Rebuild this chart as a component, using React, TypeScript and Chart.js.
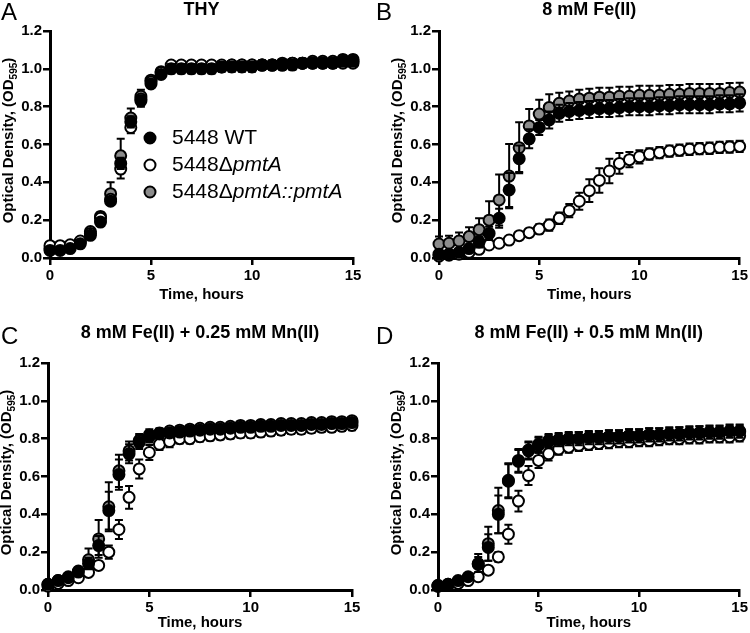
import React, { useEffect, useRef } from "react";
import { Chart, registerables } from "chart.js";

Chart.register(...registerables);

const FONT = "'Liberation Sans', Arial, Helvetica, sans-serif";

// ---------- data ----------
const TIME_H = [0, 0.5, 1, 1.5, 2, 2.5, 3, 3.5, 4, 4.5, 5, 5.5, 6, 6.5, 7, 7.5, 8, 8.5, 9, 9.5, 10, 10.5, 11, 11.5, 12, 12.5, 13, 13.5, 14, 14.5, 15];

const X_TICKS = [0, 5, 10, 15];
const Y_TICKS = [0, 0.2, 0.4, 0.6, 0.8, 1.0, 1.2];

const X_TITLE = "Time, hours";
const Y_TITLE_MAIN = "Optical Density, (OD";
const Y_TITLE_SUB = "595";
const Y_TITLE_END = ")";

const SERIES_FILL = ["#000000", "#ffffff", "#8c8c8c"];
const LEGEND_WT = [{ t: "5448 WT", i: false }];
const LEGEND_DEL = [{ t: "5448Δ", i: false }, { t: "pmtA", i: true }];
const LEGEND_COMP = [{ t: "5448Δ", i: false }, { t: "pmtA::pmtA", i: true }];

const PANEL_LETTERS = ["A", "B", "C", "D"];
const PANEL_TITLES = ["THY", "8 mM Fe(II)", "8 mM Fe(II) + 0.25 mM Mn(II)", "8 mM Fe(II) + 0.5 mM Mn(II)"];

// Panel A: THY
const THY_WT = [0.04, 0.04, 0.05, 0.075, 0.12, 0.19, 0.30, 0.50, 0.72, 0.83, 0.92, 0.97, 1.00, 1.00, 1.00, 1.00, 1.00, 1.01, 1.01, 1.01, 1.01, 1.02, 1.02, 1.02, 1.02, 1.03, 1.03, 1.03, 1.03, 1.04, 1.04];
const THY_WT_SD = [0.01, 0.01, 0.01, 0.01, 0.015, 0.02, 0.02, 0.03, 0.03, 0.03, 0.02, 0.02, 0.025, 0.025, 0.025, 0.025, 0.025, 0.025, 0.025, 0.025, 0.025, 0.025, 0.025, 0.025, 0.025, 0.025, 0.025, 0.025, 0.025, 0.025, 0.025];
const THY_DEL = [0.065, 0.065, 0.07, 0.09, 0.13, 0.21, 0.31, 0.47, 0.69, 0.84, 0.93, 0.98, 1.02, 1.02, 1.02, 1.02, 1.02, 1.02, 1.02, 1.02, 1.02, 1.02, 1.02, 1.02, 1.03, 1.03, 1.03, 1.03, 1.03, 1.03, 1.03];
const THY_DEL_SD = [0.01, 0.01, 0.01, 0.01, 0.01, 0.015, 0.02, 0.05, 0.03, 0.02, 0.02, 0.02, 0.02, 0.02, 0.02, 0.02, 0.02, 0.02, 0.02, 0.02, 0.02, 0.02, 0.02, 0.02, 0.02, 0.02, 0.02, 0.02, 0.02, 0.02, 0.02];
const THY_COMP = [0.05, 0.05, 0.06, 0.085, 0.14, 0.22, 0.34, 0.54, 0.74, 0.855, 0.94, 0.985, 1.01, 1.01, 1.01, 1.01, 1.01, 1.01, 1.02, 1.02, 1.02, 1.02, 1.02, 1.03, 1.03, 1.03, 1.04, 1.04, 1.04, 1.05, 1.05];
const THY_COMP_SD = [0.01, 0.01, 0.01, 0.01, 0.015, 0.02, 0.06, 0.09, 0.05, 0.035, 0.02, 0.02, 0.02, 0.02, 0.02, 0.02, 0.02, 0.02, 0.02, 0.02, 0.02, 0.02, 0.02, 0.02, 0.02, 0.02, 0.02, 0.02, 0.02, 0.02, 0.02];

// Panel B: 8 mM Fe(II)
const FE_WT = [0.02, 0.02, 0.03, 0.05, 0.085, 0.13, 0.21, 0.36, 0.525, 0.63, 0.69, 0.73, 0.765, 0.775, 0.78, 0.785, 0.79, 0.79, 0.795, 0.80, 0.80, 0.80, 0.805, 0.805, 0.81, 0.81, 0.81, 0.81, 0.815, 0.815, 0.82];
const FE_WT_SD = [0.01, 0.01, 0.015, 0.02, 0.03, 0.035, 0.05, 0.09, 0.07, 0.05, 0.04, 0.045, 0.045, 0.045, 0.045, 0.045, 0.045, 0.045, 0.045, 0.045, 0.045, 0.045, 0.045, 0.045, 0.045, 0.045, 0.045, 0.045, 0.045, 0.045, 0.045];
const FE_DEL = [0.01, 0.015, 0.02, 0.03, 0.046, 0.069, 0.078, 0.095, 0.118, 0.134, 0.153, 0.174, 0.21, 0.25, 0.30, 0.356, 0.41, 0.46, 0.50, 0.52, 0.535, 0.55, 0.557, 0.565, 0.57, 0.575, 0.578, 0.58, 0.585, 0.587, 0.59];
const FE_DEL_SD = [0.01, 0.01, 0.01, 0.01, 0.015, 0.015, 0.015, 0.02, 0.02, 0.02, 0.025, 0.03, 0.03, 0.035, 0.045, 0.06, 0.065, 0.065, 0.055, 0.04, 0.035, 0.03, 0.03, 0.03, 0.03, 0.03, 0.03, 0.03, 0.03, 0.03, 0.03];
const FE_COMP = [0.074, 0.078, 0.09, 0.113, 0.15, 0.20, 0.307, 0.433, 0.583, 0.698, 0.761, 0.796, 0.818, 0.83, 0.84, 0.845, 0.85, 0.85, 0.855, 0.855, 0.86, 0.86, 0.86, 0.865, 0.865, 0.87, 0.87, 0.87, 0.87, 0.875, 0.877];
const FE_COMP_SD = [0.04, 0.04, 0.045, 0.05, 0.06, 0.10, 0.135, 0.17, 0.135, 0.09, 0.075, 0.07, 0.055, 0.05, 0.05, 0.05, 0.05, 0.05, 0.05, 0.05, 0.05, 0.05, 0.05, 0.05, 0.05, 0.05, 0.05, 0.05, 0.05, 0.05, 0.05];

// Panel C: 8 mM Fe(II) + 0.25 mM Mn(II)
const MN25_WT = [0.03, 0.05, 0.065, 0.095, 0.14, 0.235, 0.42, 0.61, 0.72, 0.78, 0.81, 0.825, 0.83, 0.835, 0.84, 0.845, 0.85, 0.85, 0.855, 0.86, 0.86, 0.865, 0.865, 0.87, 0.87, 0.87, 0.875, 0.875, 0.88, 0.88, 0.885];
const MN25_WT_SD = [0.01, 0.01, 0.01, 0.015, 0.03, 0.05, 0.10, 0.08, 0.05, 0.035, 0.03, 0.025, 0.02, 0.02, 0.02, 0.02, 0.02, 0.02, 0.02, 0.02, 0.02, 0.02, 0.02, 0.02, 0.02, 0.02, 0.02, 0.02, 0.02, 0.02, 0.02];
const MN25_DEL = [0.02, 0.035, 0.05, 0.065, 0.093, 0.13, 0.20, 0.32, 0.49, 0.64, 0.727, 0.77, 0.785, 0.80, 0.80, 0.81, 0.815, 0.82, 0.825, 0.83, 0.83, 0.835, 0.84, 0.845, 0.85, 0.85, 0.855, 0.86, 0.86, 0.865, 0.87];
const MN25_DEL_SD = [0.01, 0.01, 0.01, 0.01, 0.015, 0.02, 0.035, 0.05, 0.06, 0.05, 0.04, 0.03, 0.03, 0.025, 0.025, 0.025, 0.025, 0.025, 0.025, 0.025, 0.025, 0.025, 0.025, 0.025, 0.025, 0.025, 0.025, 0.025, 0.025, 0.025, 0.025];
const MN25_COMP = [0.03, 0.05, 0.07, 0.10, 0.16, 0.27, 0.44, 0.63, 0.735, 0.79, 0.82, 0.83, 0.84, 0.845, 0.85, 0.855, 0.86, 0.86, 0.865, 0.87, 0.87, 0.875, 0.875, 0.88, 0.88, 0.88, 0.885, 0.885, 0.89, 0.89, 0.895];
const MN25_COMP_SD = [0.01, 0.01, 0.01, 0.02, 0.06, 0.10, 0.13, 0.085, 0.05, 0.035, 0.03, 0.025, 0.02, 0.02, 0.02, 0.02, 0.02, 0.02, 0.02, 0.02, 0.02, 0.02, 0.02, 0.02, 0.02, 0.02, 0.02, 0.02, 0.02, 0.02, 0.02];

// Panel D: 8 mM Fe(II) + 0.5 mM Mn(II)
const MN50_WT = [0.025, 0.03, 0.05, 0.07, 0.135, 0.225, 0.40, 0.58, 0.685, 0.74, 0.77, 0.79, 0.795, 0.80, 0.80, 0.805, 0.805, 0.81, 0.81, 0.815, 0.815, 0.82, 0.82, 0.825, 0.825, 0.83, 0.83, 0.835, 0.835, 0.84, 0.84];
const MN50_WT_SD = [0.01, 0.01, 0.01, 0.02, 0.04, 0.07, 0.10, 0.09, 0.06, 0.045, 0.04, 0.035, 0.035, 0.035, 0.035, 0.035, 0.035, 0.035, 0.035, 0.035, 0.035, 0.035, 0.035, 0.035, 0.035, 0.035, 0.035, 0.035, 0.035, 0.035, 0.035];
const MN50_DEL = [0.02, 0.025, 0.035, 0.05, 0.07, 0.105, 0.175, 0.295, 0.47, 0.605, 0.685, 0.72, 0.745, 0.755, 0.765, 0.77, 0.775, 0.78, 0.785, 0.785, 0.79, 0.79, 0.795, 0.80, 0.80, 0.805, 0.805, 0.81, 0.81, 0.81, 0.815];
const MN50_DEL_SD = [0.01, 0.01, 0.01, 0.01, 0.015, 0.015, 0.025, 0.05, 0.055, 0.05, 0.04, 0.035, 0.03, 0.03, 0.03, 0.03, 0.03, 0.03, 0.03, 0.03, 0.03, 0.03, 0.03, 0.03, 0.03, 0.03, 0.03, 0.03, 0.03, 0.03, 0.03];
const MN50_COMP = [0.02, 0.03, 0.045, 0.065, 0.14, 0.245, 0.42, 0.575, 0.68, 0.735, 0.765, 0.785, 0.79, 0.795, 0.80, 0.80, 0.805, 0.81, 0.81, 0.815, 0.815, 0.82, 0.82, 0.82, 0.825, 0.825, 0.83, 0.83, 0.83, 0.835, 0.835];
const MN50_COMP_SD = [0.01, 0.01, 0.01, 0.02, 0.05, 0.09, 0.12, 0.09, 0.06, 0.045, 0.04, 0.035, 0.035, 0.035, 0.035, 0.035, 0.035, 0.035, 0.035, 0.035, 0.035, 0.035, 0.035, 0.035, 0.035, 0.035, 0.035, 0.035, 0.035, 0.035, 0.035];

// ---------- panel layout ----------
const PANELS = [
  { left: 0, top: 0, w: 375, h: 316, yAxisW: 50, padRight: 22, padTop: 31, xAxisH: 58, titleY: 10, letterBase: 20, xTitleGap: 37, legend: true,
    values: [THY_WT, THY_DEL, THY_COMP], sds: [THY_WT_SD, THY_DEL_SD, THY_COMP_SD] },
  { left: 375, top: 0, w: 375, h: 316, yAxisW: 64, padRight: 8, padTop: 31, xAxisH: 58, titleY: 10, letterBase: 20, xTitleGap: 37, legend: false,
    values: [FE_WT, FE_DEL, FE_COMP], sds: [FE_WT_SD, FE_DEL_SD, FE_COMP_SD] },
  { left: 0, top: 316, w: 375, h: 317, yAxisW: 48, padRight: 23, padTop: 47, xAxisH: 43, titleY: 17, letterBase: 28, xTitleGap: 33, legend: false,
    values: [MN25_WT, MN25_DEL, MN25_COMP], sds: [MN25_WT_SD, MN25_DEL_SD, MN25_COMP_SD] },
  { left: 375, top: 316, w: 375, h: 317, yAxisW: 63, padRight: 8, padTop: 47, xAxisH: 43, titleY: 17, letterBase: 28, xTitleGap: 33, legend: false,
    values: [MN50_WT, MN50_DEL, MN50_COMP], sds: [MN50_WT_SD, MN50_DEL_SD, MN50_COMP_SD] },
];

// ---------- plugins ----------
const errorBarPlugin = {
  id: "errbars",
  beforeDatasetDraw(chart: any, args: any, opts: any) {
    const sds = opts.sds?.[args.index];
    if (!sds) return;
    const ds = chart.data.datasets[args.index];
    const xs = chart.scales.x;
    const ys = chart.scales.y;
    const ctx = chart.ctx;
    ctx.save();
    ctx.strokeStyle = "#000";
    ctx.lineWidth = 2;
    ds.data.forEach((p: any, i: number) => {
      const e = sds[i];
      const px = xs.getPixelForValue(p.x);
      const yTop = ys.getPixelForValue(p.y + e);
      const yBot = ys.getPixelForValue(p.y - e);
      ctx.beginPath();
      ctx.moveTo(px, yTop);
      ctx.lineTo(px, yBot);
      ctx.moveTo(px - 4, yTop);
      ctx.lineTo(px + 4, yTop);
      ctx.moveTo(px - 4, yBot);
      ctx.lineTo(px + 4, yBot);
      ctx.stroke();
    });
    ctx.restore();
  },
};

const decorPlugin = {
  id: "decor",
  afterDraw(chart: any, _args: any, o: any) {
    const { ctx, chartArea } = chart;
    const midX = (chartArea.left + chartArea.right) / 2;
    const midY = (chartArea.top + chartArea.bottom) / 2;
    ctx.save();
    ctx.fillStyle = "#000";

    // panel letter
    ctx.font = `24px ${FONT}`;
    ctx.textAlign = "left";
    ctx.textBaseline = "alphabetic";
    ctx.fillText(o.letter, 1, o.letterBase);

    // panel title
    ctx.font = `bold 18px ${FONT}`;
    ctx.textAlign = "center";
    ctx.textBaseline = "middle";
    ctx.fillText(o.title, midX, o.titleY);

    // x title
    ctx.font = `bold 15px ${FONT}`;
    ctx.fillText(X_TITLE, midX, chartArea.bottom + o.xTitleGap);

    // y title with subscript
    const segs = [
      { t: Y_TITLE_MAIN, f: `bold 15px ${FONT}`, dy: 0 },
      { t: Y_TITLE_SUB, f: `bold 10px ${FONT}`, dy: 3.5 },
      { t: Y_TITLE_END, f: `bold 15px ${FONT}`, dy: 0 },
    ];
    let total = 0;
    segs.forEach((s) => { ctx.font = s.f; total += ctx.measureText(s.t).width; });
    ctx.save();
    ctx.translate(chartArea.left - 37, midY - 4);
    ctx.rotate(-Math.PI / 2);
    ctx.textAlign = "left";
    ctx.textBaseline = "alphabetic";
    let x = -total / 2;
    segs.forEach((s) => {
      ctx.font = s.f;
      ctx.fillText(s.t, x, s.dy);
      x += ctx.measureText(s.t).width;
    });
    ctx.restore();

    // legend
    if (o.legend) {
      const items = [LEGEND_WT, LEGEND_DEL, LEGEND_COMP];
      items.forEach((segsL, i) => {
        const cy = chartArea.top + 107 + i * 27;
        const cx = chartArea.left + 100;
        ctx.beginPath();
        ctx.arc(cx, cy, 5.5, 0, Math.PI * 2);
        ctx.fillStyle = SERIES_FILL[i];
        ctx.fill();
        ctx.lineWidth = 2;
        ctx.strokeStyle = "#000";
        ctx.stroke();
        ctx.fillStyle = "#000";
        ctx.textAlign = "left";
        ctx.textBaseline = "middle";
        let tx = chartArea.left + 122;
        segsL.forEach((s) => {
          ctx.font = `${s.i ? "italic " : ""}21px ${FONT}`;
          ctx.fillText(s.t, tx, cy);
          tx += ctx.measureText(s.t).width;
        });
      });
    }
    ctx.restore();
  },
};

function Panel({ idx }: { idx: number }) {
  const ref = useRef<HTMLCanvasElement>(null);
  const p = PANELS[idx];
  useEffect(() => {
    const datasets = p.values.map((vals, s) => ({
      data: TIME_H.map((t, i) => ({ x: t, y: vals[i] })),
      showLine: false,
      pointRadius: 5.5,
      pointBorderWidth: 2,
      pointBorderColor: "#000",
      pointBackgroundColor: SERIES_FILL[s],
      clip: false as any,
    }));
    const chart = new Chart(ref.current!, {
      type: "scatter",
      data: { datasets },
      plugins: [errorBarPlugin, decorPlugin],
      options: {
        responsive: false,
        maintainAspectRatio: false,
        animation: false,
        events: [],
        layout: { padding: { left: 0, right: p.padRight, top: p.padTop, bottom: 0 } },
        plugins: {
          legend: { display: false },
          tooltip: { enabled: false },
          errbars: { sds: p.sds },
          decor: {
            letter: PANEL_LETTERS[idx],
            title: PANEL_TITLES[idx],
            titleY: p.titleY,
            letterBase: p.letterBase,
            xTitleGap: p.xTitleGap,
            legend: p.legend,
          },
        } as any,
        scales: {
          x: {
            type: "linear",
            min: 0,
            max: 15,
            afterFit: (s: any) => { s.height = p.xAxisH; },
            afterBuildTicks: (s: any) => { s.ticks = X_TICKS.map((v) => ({ value: v })); },
            ticks: {
              color: "#000",
              font: { family: FONT, size: 15, weight: "bold" },
              padding: 2,
              maxRotation: 0,
              autoSkip: false,
              callback: (v: any) => String(v),
            },
            grid: { display: true, drawOnChartArea: false, drawTicks: true, tickLength: 7, lineWidth: 2.5, color: "#000" },
            border: { display: true, color: "#000", width: 3 },
          },
          y: {
            type: "linear",
            min: 0,
            max: 1.2,
            afterFit: (s: any) => { s.width = p.yAxisW; },
            afterBuildTicks: (s: any) => { s.ticks = Y_TICKS.map((v) => ({ value: v })); },
            ticks: {
              color: "#000",
              font: { family: FONT, size: 15, weight: "bold" },
              padding: 1,
              autoSkip: false,
              callback: (v: any) => Number(v).toFixed(1),
            },
            grid: { display: true, drawOnChartArea: false, drawTicks: true, tickLength: 7, lineWidth: 2.5, color: "#000" },
            border: { display: true, color: "#000", width: 3 },
          },
        },
      },
    });
    return () => chart.destroy();
  }, []);
  return (
    <div style={{ position: "absolute", left: p.left, top: p.top, width: p.w, height: p.h }}>
      <canvas ref={ref} width={p.w} height={p.h} style={{ display: "block" }} />
    </div>
  );
}

export default function App() {
  return (
    <div style={{ position: "absolute", left: 0, top: 0, width: 750, height: 633, background: "#fff" }}>
      {PANELS.map((_, i) => (
        <Panel key={i} idx={i} />
      ))}
    </div>
  );
}
